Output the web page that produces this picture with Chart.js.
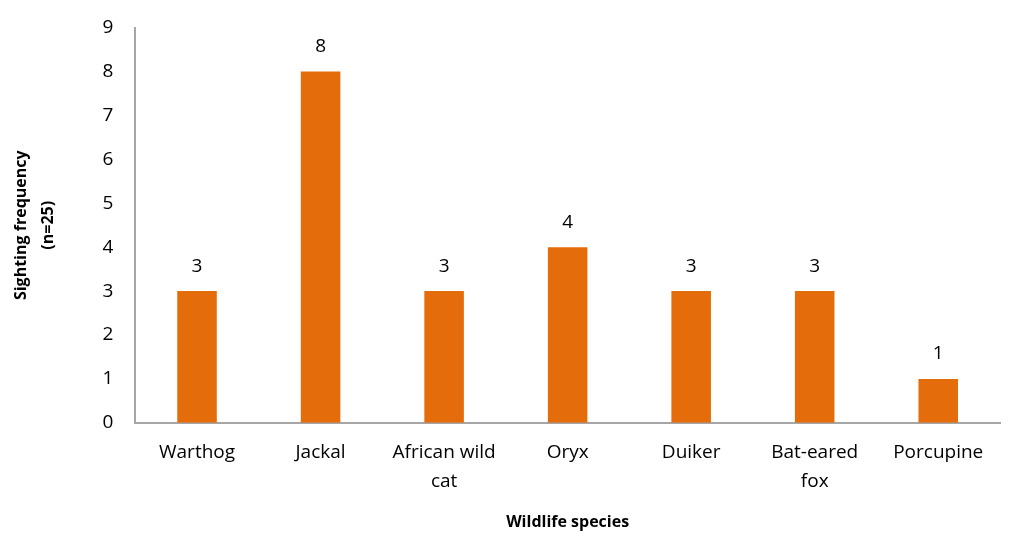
<!DOCTYPE html>
<html>
<head>
<meta charset="utf-8">
<script src="https://cdn.jsdelivr.net/npm/chart.js@4/dist/chart.umd.min.js"></script>
<style>
html, body { margin: 0; padding: 0; background: #fff; }
#wrap { width: 1010px; height: 554px; }
</style>
</head>
<body>
<div id="wrap"><canvas id="chart" width="1010" height="554"></canvas></div>
<script>
var species = [['Warthog'], ['Jackal'], ['African wild', 'cat'], ['Oryx'], ['Duiker'], ['Bat-eared', 'fox'], ['Porcupine']];
var sightings = [3, 8, 3, 4, 3, 3, 1];
var yTicks = [0, 1, 2, 3, 4, 5, 6, 7, 8, 9];

var fontName = "'Open Sans', 'Liberation Sans', sans-serif";

// draw value above each bar
var valueLabels = {
    id: 'valueLabels',
    afterDatasetsDraw: function(chart){
        var ctx = chart.ctx;
        var meta = chart.getDatasetMeta(0);
        ctx.save();
        ctx.font = '19px ' + fontName;
        ctx.fillStyle = '#000';
        ctx.textAlign = 'center';
        ctx.textBaseline = 'middle';
        meta.data.forEach(function(bar, i){
            ctx.fillText(sightings[i], bar.x, bar.y - 25);
        });
        ctx.restore();
    }
};

var ctx = document.getElementById('chart').getContext('2d');
var chartObj = new Chart(ctx, {
    type: 'bar',
    data: {
        labels: species,
        datasets: [{
            data: sightings,
            backgroundColor: '#E46C0A',
            barPercentage: 0.32,
            categoryPercentage: 1
        }]
    },
    options: {
        responsive: false,
        animation: false,
        layout: { padding: { top: 22, right: 10, left: 4, bottom: 22 } },
        plugins: {
            legend: { display: false },
            tooltip: { enabled: false }
        },
        scales: {
            x: {
                grid: { display: false, drawTicks: false },
                border: { color: '#A6A6A6', width: 2 },
                ticks: {
                    color: '#000',
                    font: { family: fontName, size: 19, lineHeight: 1.5 },
                    padding: 16,
                    maxRotation: 0,
                    autoSkip: false
                },
                title: {
                    display: true,
                    text: 'Wildlife species',
                    color: '#000',
                    font: { family: fontName, size: 16, weight: 'bold' },
                    padding: { top: 1, bottom: 0 }
                }
            },
            y: {
                min: 0,
                max: 9,
                afterBuildTicks: function(axis){
                    axis.ticks = yTicks.map(function(v){ return { value: v }; });
                },
                grid: { display: false, drawTicks: false },
                border: { color: '#A6A6A6', width: 2 },
                ticks: {
                    color: '#000',
                    font: { family: fontName, size: 19, lineHeight: 0.6 },
                    padding: 22
                },
                title: {
                    display: true,
                    text: ['Sighting frequency', '(n=25)'],
                    color: '#000',
                    font: { family: fontName, size: 16, weight: 'bold', lineHeight: 1.7 },
                    padding: { bottom: 18 }
                }
            }
        }
    },
    plugins: [valueLabels]
});
</script>
</body>
</html>
